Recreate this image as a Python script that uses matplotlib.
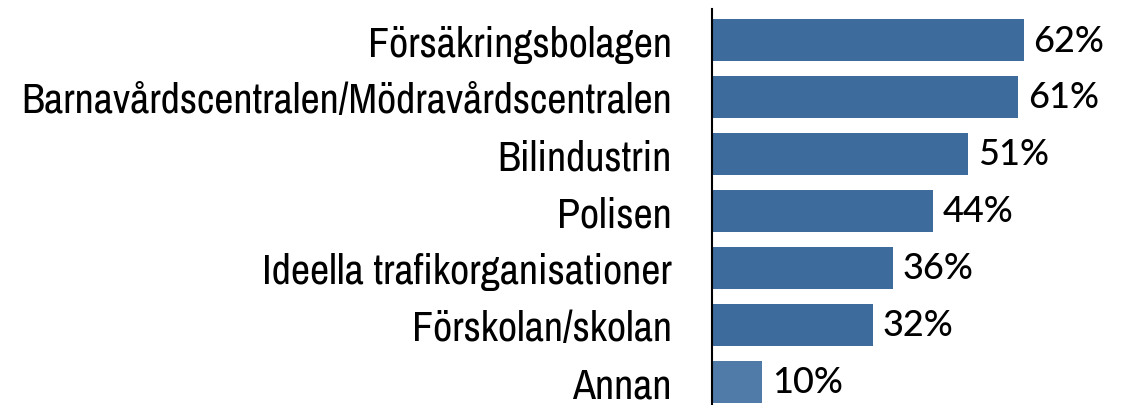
import matplotlib
matplotlib.use("Agg")
import matplotlib.pyplot as plt
from matplotlib import font_manager

categories = [
    "Försäkringsbolagen",
    "Barnavårdscentralen/Mödravårdscentralen",
    "Bilindustrin",
    "Polisen",
    "Ideella trafikorganisationer",
    "Förskolan/skolan",
    "Annan",
]
values = [62, 61, 51, 44, 36, 32, 10]
value_labels = ["62%", "61%", "51%", "44%", "36%", "32%", "10%"]
bar_colors = ["#3d6b9b"] * 6 + ["#507aa8"]

# look for an upright narrow face, the original uses a condensed sans
fonts = sorted(font_manager.fontManager.ttflist, key=lambda f: f.name)
narrow = None
for f in fonts:
    if (("Condensed" in f.name or "Narrow" in f.name)
            and f.style == "normal" and f.weight in (400, "normal", "regular")):
        narrow = font_manager.FontProperties(fname=f.fname)
        break
if narrow is None:
    for f in fonts:
        if (f.stretch in ("condensed", "semi-condensed") and f.style == "normal"
                and f.weight in (400, "normal", "regular")):
            narrow = font_manager.FontProperties(fname=f.fname)
            break
if narrow is None:
    narrow = font_manager.FontProperties(family="DejaVu Sans")

fig = plt.figure(figsize=(11.24, 4.06), dpi=100)
ax = fig.add_axes([712 / 1124, 0.0, 1 - 712 / 1124, 396 / 406])

ypos = list(range(len(categories)))
ax.barh(ypos, values, height=0.74, color=bar_colors)

for y, v, lab in zip(ypos, values, value_labels):
    ax.annotate(lab, (v, y), xytext=(7, 0), textcoords="offset points",
                ha="left", va="center", fontsize=26, fontfamily="Lato",
                fontweight="medium", color="black")

ax.set_xlim(0, 82)
ax.set_ylim(6.41, -0.545)
ax.set_yticks(ypos)
ax.tick_params(axis="y", length=0, pad=29)
ax.set_xticks([])
for side in ["top", "right", "bottom"]:
    ax.spines[side].set_visible(False)
ax.spines["left"].set_linewidth(1.5)
ax.spines["left"].set_color("black")

# size the labels so the longest one spans the same width as in the original
probe = fig.text(0, 0, categories[1], fontproperties=narrow, fontsize=20)
w = probe.get_window_extent(fig.canvas.get_renderer()).width
probe.remove()
size = min(20 * 650 / w, 34)
ax.set_yticklabels(categories, fontproperties=narrow, fontsize=size)

fig.savefig("out.png", dpi=100)
